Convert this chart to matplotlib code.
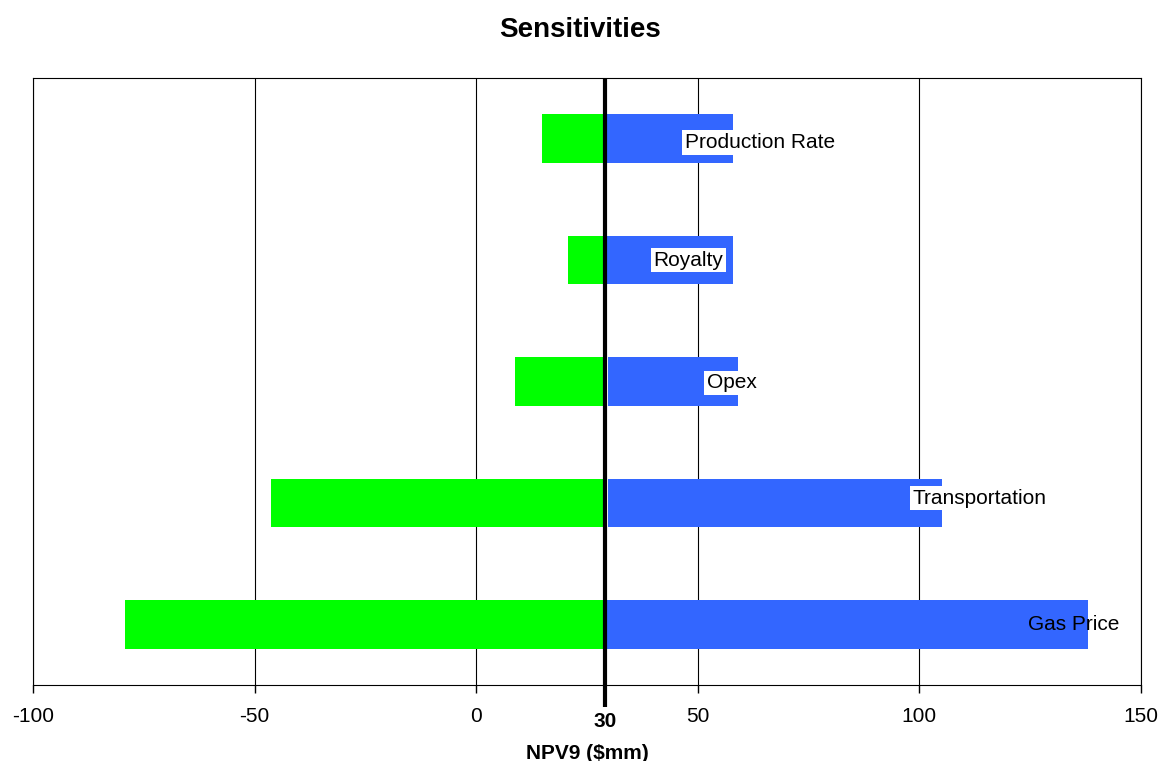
import matplotlib.pyplot as plt
import numpy as np

plt.rcParams['font.family'] = ['Liberation Sans', 'DejaVu Sans']

# Tornado data (NPV9, $mm)
categories = ['Gas Price', 'Transportation', 'Opex', 'Royalty', 'Production Rate']
low_values = [-79.2, -46.3, 8.8, 20.8, 14.9]
high_values = [138.1, 105.1, 59.1, 58.0, 58.0]
high_start = [29.0, 29.7, 29.7, 29.0, 29.0]
label_x = [124.5, 98.5, 52.0, 40.0, 47.0]
label_dy = [0.0, 0.04, -0.01, 0.0, -0.03]
base_case = 29.0
xticks = [-100, -50, 0, 50, 100, 150]

fig = plt.figure(figsize=(11.61, 7.61), dpi=100)
ax = fig.add_axes([33 / 1161, 76 / 761, 1108 / 1161, 607 / 761])

y = np.arange(len(categories))
ax.barh(y, np.array(base_case) - np.array(low_values), left=low_values,
        height=0.4, color='#00FF00', zorder=2)
ax.barh(y, np.array(high_values) - np.array(high_start), left=high_start,
        height=0.4, color='#3366FF', zorder=2)

# Labels with white boxes (Gas Price sits on the bar without a box)
for i, (cat, lx, dy) in enumerate(zip(categories, label_x, label_dy)):
    if cat == 'Gas Price':
        ax.text(lx, i + dy, cat, fontsize=15, va='center', ha='left', zorder=4)
    else:
        ax.text(lx, i + dy, cat, fontsize=15, va='center', ha='left', zorder=4,
                bbox=dict(facecolor='white', edgecolor='none', pad=2))

# Base case line
ax.plot([base_case, base_case], [-0.68, 4.5], color='black', lw=3,
        clip_on=False, zorder=5, solid_capstyle='butt')
ax.text(base_case, -0.80, '30', fontsize=15, fontweight='bold',
        ha='center', va='center')

ax.set_xlim(-100, 150)
ax.set_ylim(-0.5, 4.5)
ax.set_xticks(xticks)
ax.set_xticklabels([str(t) for t in xticks], fontsize=15)
ax.set_yticks([])
ax.tick_params(axis='x', direction='out', length=6, width=1, pad=10)
ax.grid(axis='x', color='black', lw=0.8)
ax.set_axisbelow(True)
for sp in ax.spines.values():
    sp.set_linewidth(0.8)
    sp.set_color('black')

ax.set_xlabel('NPV9 ($mm)', fontsize=15, fontweight='bold', labelpad=13)
fig.suptitle('Sensitivities', fontsize=20, fontweight='bold', y=0.978)

plt.savefig('out.png', dpi=100)
